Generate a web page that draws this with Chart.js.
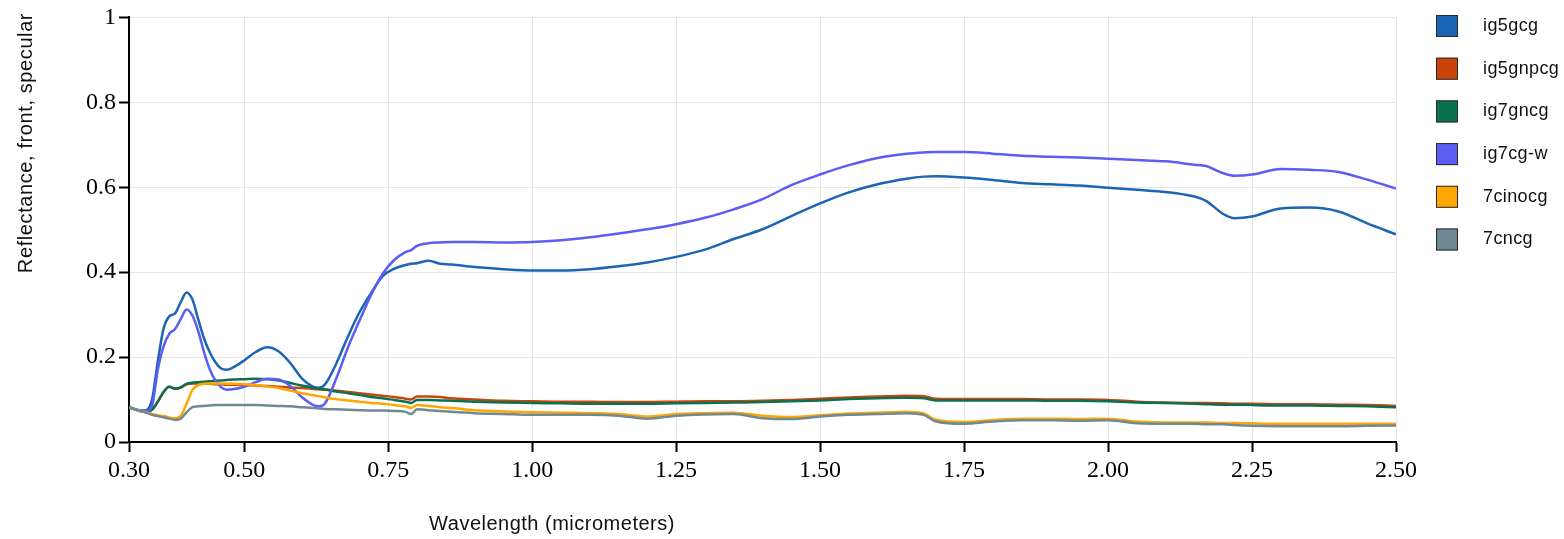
<!DOCTYPE html>
<html><head><meta charset="utf-8">
<script src="https://cdn.jsdelivr.net/npm/chart.js@4"></script>
<style>html,body{margin:0;padding:0;background:#fff;overflow:hidden}</style>
</head><body>
<canvas id="c" width="1564" height="539"></canvas>
<script>
const wavelengths = [0.30,0.32,0.33,0.34,0.35,0.36,0.37,0.38,0.39,0.40,
  0.41,0.42,0.43,0.44,0.45,0.46,0.47,0.48,0.50,0.52,
  0.54,0.56,0.58,0.60,0.62,0.63,0.64,0.66,0.68,0.70,
  0.72,0.74,0.76,0.78,0.79,0.80,0.82,0.84,0.86,0.90,
  0.95,1.00,1.05,1.10,1.15,1.20,1.25,1.30,1.35,1.40,
  1.45,1.50,1.55,1.60,1.65,1.68,1.70,1.75,1.80,1.85,
  1.90,1.95,2.00,2.05,2.10,2.15,2.17,2.20,2.22,2.25,
  2.30,2.35,2.40,2.45,2.50];

const ig5gcg = [0.082,0.074,0.075,0.100,0.190,0.267,0.296,0.303,0.330,0.352,
  0.336,0.290,0.245,0.212,0.188,0.173,0.170,0.175,0.192,0.212,
  0.223,0.213,0.186,0.150,0.130,0.128,0.135,0.185,0.248,0.305,
  0.350,0.390,0.408,0.417,0.420,0.421,0.427,0.420,0.418,0.412,
  0.407,0.404,0.404,0.407,0.414,0.423,0.436,0.453,0.478,0.501,
  0.532,0.562,0.588,0.607,0.620,0.625,0.626,0.623,0.617,0.610,
  0.607,0.604,0.599,0.594,0.589,0.578,0.568,0.537,0.527,0.531,
  0.550,0.552,0.543,0.515,0.489];

const ig5gnpcg = [0.082,0.073,0.072,0.076,0.095,0.118,0.130,0.125,0.128,0.136,
  0.138,0.137,0.137,0.137,0.136,0.136,0.135,0.135,0.134,0.133,
  0.132,0.130,0.128,0.127,0.125,0.124,0.123,0.121,0.118,0.115,
  0.112,0.109,0.106,0.102,0.100,0.107,0.107,0.106,0.103,0.100,
  0.097,0.096,0.095,0.095,0.094,0.094,0.095,0.096,0.096,0.097,
  0.099,0.102,0.105,0.107,0.109,0.108,0.102,0.101,0.101,0.101,
  0.100,0.100,0.099,0.095,0.093,0.092,0.092,0.091,0.090,0.090,
  0.089,0.089,0.088,0.087,0.085];

const ig7gncg = [0.082,0.073,0.072,0.076,0.095,0.118,0.130,0.126,0.129,0.137,
  0.140,0.141,0.142,0.143,0.144,0.145,0.146,0.147,0.148,0.149,
  0.148,0.145,0.139,0.133,0.128,0.126,0.124,0.119,0.115,0.111,
  0.106,0.103,0.099,0.095,0.092,0.099,0.099,0.098,0.097,0.095,
  0.093,0.092,0.091,0.090,0.090,0.090,0.091,0.092,0.093,0.094,
  0.096,0.098,0.101,0.103,0.104,0.103,0.098,0.098,0.098,0.098,
  0.097,0.097,0.096,0.093,0.092,0.090,0.089,0.088,0.088,0.087,
  0.086,0.086,0.085,0.084,0.082];

const ig7cgW = [0.082,0.074,0.073,0.085,0.170,0.225,0.255,0.266,0.290,0.312,
  0.298,0.262,0.213,0.172,0.145,0.129,0.123,0.124,0.130,0.141,
  0.149,0.147,0.132,0.106,0.087,0.084,0.090,0.150,0.222,0.285,
  0.345,0.395,0.428,0.447,0.452,0.462,0.468,0.470,0.471,0.471,
  0.470,0.471,0.475,0.482,0.491,0.501,0.513,0.528,0.548,0.572,
  0.605,0.630,0.652,0.669,0.679,0.682,0.683,0.683,0.679,0.674,
  0.672,0.670,0.667,0.664,0.661,0.653,0.650,0.633,0.627,0.630,
  0.643,0.641,0.636,0.618,0.597];

const c7cinocg = [0.082,0.073,0.070,0.066,0.063,0.061,0.058,0.056,0.062,0.090,
  0.122,0.134,0.137,0.138,0.138,0.138,0.137,0.137,0.136,0.134,
  0.131,0.127,0.121,0.115,0.110,0.108,0.105,0.101,0.098,0.095,
  0.092,0.090,0.087,0.084,0.080,0.087,0.085,0.082,0.080,0.075,
  0.072,0.070,0.069,0.068,0.066,0.060,0.066,0.068,0.069,0.062,
  0.059,0.063,0.067,0.069,0.071,0.067,0.053,0.047,0.052,0.055,
  0.055,0.054,0.055,0.048,0.046,0.046,0.046,0.045,0.045,0.044,
  0.043,0.043,0.043,0.043,0.043];

const c7cncg = [0.082,0.073,0.069,0.064,0.061,0.058,0.055,0.052,0.055,0.070,
  0.082,0.084,0.085,0.086,0.087,0.087,0.087,0.087,0.087,0.087,
  0.086,0.085,0.084,0.082,0.080,0.079,0.078,0.077,0.076,0.075,
  0.074,0.074,0.073,0.071,0.066,0.077,0.075,0.073,0.071,0.068,
  0.066,0.064,0.064,0.064,0.062,0.055,0.062,0.065,0.066,0.056,
  0.054,0.060,0.064,0.066,0.068,0.064,0.049,0.043,0.048,0.051,
  0.051,0.050,0.051,0.044,0.043,0.043,0.042,0.042,0.040,0.038,
  0.037,0.037,0.037,0.038,0.039];

const seriesNames = ['ig5gcg','ig5gnpcg','ig7gncg','ig7cg-w','7cinocg','7cncg'];
const seriesValues = [ig5gcg, ig5gnpcg, ig7gncg, ig7cgW, c7cinocg, c7cncg];
const seriesColors = ['#1c64b4','#c8440a','#0b7050','#5a5ef5','#ffa600','#6f8a95'];
const xTickValues = [0.30,0.50,0.75,1.00,1.25,1.50,1.75,2.00,2.25,2.50];
const yTickValues = [0,0.2,0.4,0.6,0.8,1];
const xTitle = 'Wavelength (micrometers)';
const yTitle = 'Reflectance, front, specular';

const datasets = seriesNames.map((name, i) => ({
  label: name,
  data: wavelengths.map((w, j) => ({x: w, y: seriesValues[i][j]})),
  borderColor: seriesColors[i],
  backgroundColor: seriesColors[i],
  borderWidth: 2.5,
  pointRadius: 0,
  fill: false,
  cubicInterpolationMode: 'monotone',
  order: seriesNames.length - i
}));

const overlay = {
  id: 'overlay',
  afterDraw(chart) {
    const ctx = chart.ctx;
    const area = chart.chartArea;
    ctx.save();
    ctx.font = '18px "Liberation Sans", Arial, sans-serif';
    ctx.letterSpacing = '0.4px';
    ctx.textBaseline = 'middle';
    ctx.textAlign = 'left';
    chart.data.datasets.forEach((ds, i) => {
      const top = 15 + i * 42.7;
      ctx.fillStyle = ds.borderColor;
      ctx.fillRect(1436, top, 22, 22);
      ctx.strokeStyle = '#2a2a2a';
      ctx.lineWidth = 1;
      ctx.strokeRect(1436.5, top + 0.5, 21, 21);
      ctx.fillStyle = '#111';
      ctx.fillText(ds.label, 1483, top + 11);
    });
    ctx.font = '20px "Liberation Sans", Arial, sans-serif';
    ctx.letterSpacing = '0.5px';
    ctx.textAlign = 'center';
    ctx.fillStyle = '#111';
    ctx.fillText(xTitle, 552, 524);
    ctx.translate(26, 143);
    ctx.rotate(-Math.PI / 2);
    ctx.letterSpacing = '0.6px';
    ctx.fillText(yTitle, 0, 0);
    ctx.restore();
  }
};

new Chart(document.getElementById('c'), {
  type: 'line',
  data: { datasets },
  plugins: [overlay],
  options: {
    responsive: false,
    animation: false,
    devicePixelRatio: 1,
    layout: { padding: { left: 0, right: 168, top: 15, bottom: 0 } },
    plugins: { legend: { display: false }, tooltip: { enabled: false } },
    scales: {
      x: {
        type: 'linear', min: 0.3, max: 2.5,
        afterBuildTicks: s => { s.ticks = xTickValues.map(v => ({ value: v })); },
        afterFit: s => { s.height = 97; },
        ticks: { callback: v => Number(v).toFixed(2), font: { family: '"Liberation Serif", "Times New Roman", serif', size: 24 }, color: '#000', padding: 4, maxRotation: 0, autoSkip: false },
        grid: { color: '#e6e6e6', lineWidth: 1, tickColor: '#000', tickWidth: 2, tickLength: 10 },
        border: { color: '#000', width: 2 }
      },
      y: {
        min: 0, max: 1,
        afterBuildTicks: s => { s.ticks = yTickValues.map(v => ({ value: v })); },
        afterFit: s => { s.width = 129; },
        ticks: { callback: v => String(v), font: { family: '"Liberation Serif", "Times New Roman", serif', size: 24 }, color: '#000', padding: 3 },
        grid: { color: '#e6e6e6', lineWidth: 1, tickColor: '#000', tickWidth: 2, tickLength: 10 },
        border: { color: '#000', width: 2 }
      }
    }
  }
});
</script>
</body></html>
